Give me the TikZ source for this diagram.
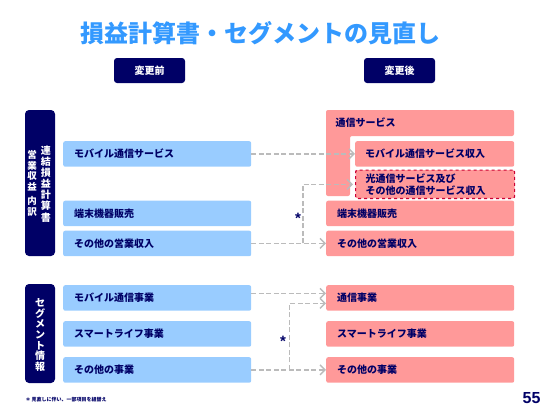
\documentclass[tikz,border=0pt]{standalone}
\usepackage{fontspec}
\setmainfont{Noto Sans CJK JP}
\newfontfamily\numfont{Liberation Sans}
\usetikzlibrary{arrows.meta, calc}

\definecolor{navy}{HTML}{000066}
\definecolor{titleblue}{HTML}{3399FF}
\definecolor{lblue}{HTML}{99CCFF}
\definecolor{lpink}{HTML}{FF9999}
\definecolor{linkgray}{HTML}{BBBBBB}
\definecolor{darkred}{HTML}{CC0033}

\begin{document}
\begin{tikzpicture}[
  x=1pt, y=-1pt,
  every node/.style={font=\bfseries\fontsize{10}{12}\selectfont, text=navy},
  head/.style={fill=navy, rounded corners=3pt, minimum width=71pt, minimum height=25pt, text=white, inner sep=0pt},
  side/.style={fill=navy, rounded corners=4pt, minimum width=30pt, text=white, inner sep=0pt, align=center},
  oldbox/.style={fill=lblue, rounded corners=2pt, minimum height=25.5pt, text width=166pt, inner xsep=11pt, anchor=north west, align=left},
  newbox/.style={oldbox, fill=lpink},
  subbox/.style={oldbox, fill=lpink, text width=139pt, inner xsep=10pt},
  link/.style={draw=linkgray, dashed, dash pattern=on 5pt off 2.5pt, line width=1.4pt, -{Straight Barb[length=5pt, width=10pt]}},
  star/.style={font=\numfont\bfseries\fontsize{15}{15}\selectfont, text=navy}
]
\useasboundingbox (0,0) rectangle (550,413);

\node[font=\bfseries\fontsize{24}{26}\selectfont, text=titleblue] (title) at (261,33) {損益計算書・セグメントの見直し};

\node[head] (before) at (149.5,70.5) {変更前};
\node[head] (after) at (399.5,70.5) {変更後};

% INCOME STATEMENT
\node[side, minimum height=146pt] (plside) at (40,183) {};
\node[font=\bfseries\fontsize{10}{11.1}\selectfont, text=white, align=center] (pltitle) at (46,184) {連\\結\\損\\益\\計\\算\\書};
\node[font=\bfseries\fontsize{9.5}{10.5}\selectfont, text=white, align=center] (plsub) at (32,183.5) {営\\業\\収\\益\\[4pt]内\\訳};

\node[oldbox] (lmobile) at (63,141) {モバイル通信サービス};
\node[oldbox] (ldevice) at (63,200.5) {端末機器販売};
\node[oldbox] (lother) at (63,230.5) {その他の営業収入};

\fill[lpink, rounded corners=2pt] (326,110) -- (514,110) -- (514,136) -- (350,136) -- (350,196) -- (326,196) -- cycle;
\node[anchor=west] (rtelecom) at (332,123) {通信サービス};
\node[subbox] (rmobile) at (355,141) {モバイル通信サービス収入};
\node[subbox, draw=darkred, dashed, line width=1.2pt, minimum height=27pt] (rfiber) at (355,169.5) {光通信サービス及び\\その他の通信サービス収入};
\node[newbox] (rdevice) at (326,200.5) {端末機器販売};
\node[newbox] (rother) at (326,230.5) {その他の営業収入};

\coordinate (plsplit) at ($(lother.east)!0.69!(rother.west)$);
\draw[link] (lmobile.east) -- (lmobile.east -| rmobile.west);
\draw[link] (lother.east) -- (rother.west);
\draw[link] (plsplit) |- ([xshift=-2pt]rfiber.west);
\node[star] (plstar) at (298,218) {*};

% SEGMENTS
\node[side, minimum height=99pt] (segside) at (40,333.5) {};
\node[font=\bfseries\fontsize{10}{10.7}\selectfont, text=white, align=center] (segtitle) at (40,335) {セ\\グ\\メ\\ン\\ト\\情\\報};

\node[oldbox] (lsmobile) at (63,285) {モバイル通信事業};
\node[oldbox] (lslife) at (63,321) {スマートライフ事業};
\node[oldbox] (lsother) at (63,357) {その他の事業};

\node[newbox] (rstelecom) at (326,285) {通信事業};
\node[newbox] (rslife) at (326,321) {スマートライフ事業};
\node[newbox] (rsother) at (326,357) {その他の事業};

\coordinate (segsplit) at ($(lsother.east)!0.51!(rsother.west)$);
\draw[link] ([yshift=4.5pt]lsmobile.east) -- ([yshift=4.5pt]rstelecom.west);
\draw[link] (lsother.east) -- (rsother.west);
\draw[link] (segsplit) |- ([yshift=-5.5pt]rstelecom.west);
\node[star] (segstar) at (283,341) {*};

% NOTE AND PAGE
\node[anchor=west, font=\bfseries\fontsize{5}{6}\selectfont] (note) at (22,400) {＊ 見直しに伴い、一部項目を組替え};
\node[anchor=east, font=\numfont\bfseries\fontsize{16}{16}\selectfont] (page) at (544,398) {55};

\end{tikzpicture}
\end{document}
